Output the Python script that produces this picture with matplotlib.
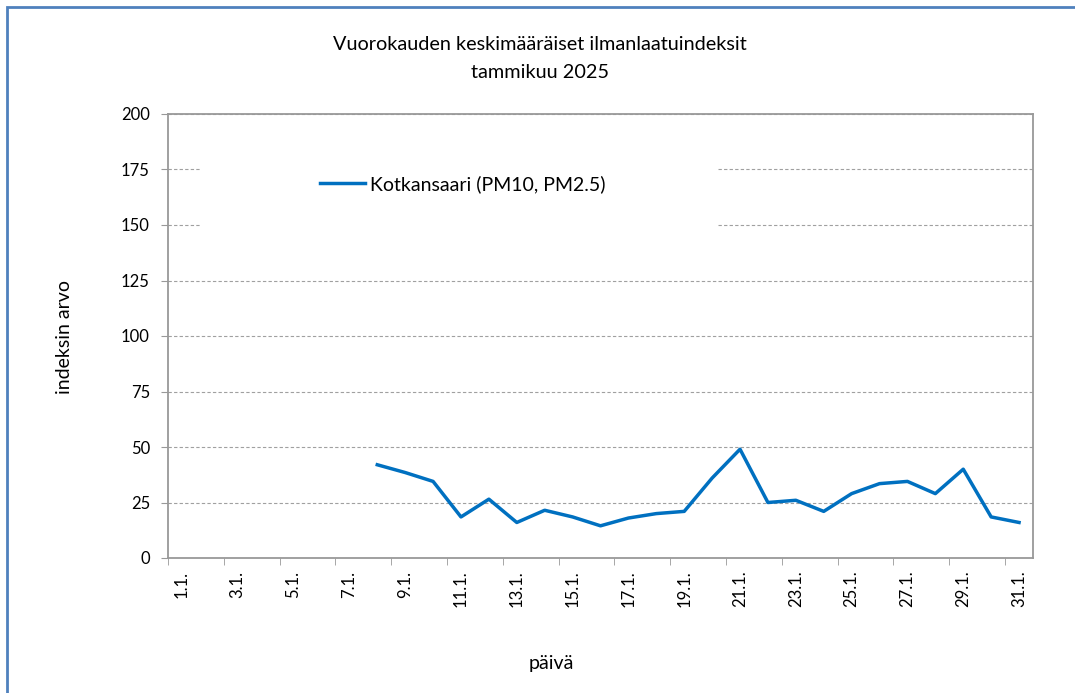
import numpy as np
import matplotlib.pyplot as plt
from matplotlib.patches import Rectangle

# päivittäiset indeksiarvot, tammikuu 2025 (1.-7.1. ei dataa)
days = list(range(1, 32))
kotkansaari = [np.nan] * 7 + [
    42, 38.5, 34.5, 18.5, 26.5, 16, 21.5, 18.5, 14.5, 18, 20,
    21, 36, 49, 25, 26, 21, 29, 33.5, 34.5, 29, 40, 18.5, 16,
]
tick_days = list(range(1, 32, 2))
tick_labels = [f'{d}.1.' for d in tick_days]
y_ticks = list(range(0, 201, 25))

plt.rcParams['font.family'] = ['Lato', 'DejaVu Sans']

fig = plt.figure(figsize=(10.75, 6.93), dpi=100)
ax = fig.add_axes([168 / 1075, 135 / 693, 865 / 1075, 444 / 693])

ax.plot(days, kotkansaari, color='#0070C0', lw=2.5, label='Kotkansaari (PM10, PM2.5)',
        zorder=3)

ax.set_xlim(0.5, 31.5)
ax.set_ylim(0, 200)
ax.set_yticks(y_ticks)
ax.set_yticklabels([str(v) for v in y_ticks], fontsize=12)
ax.set_xticks(tick_days)
ax.set_xticklabels(tick_labels, rotation=90, fontsize=12, va='top')
ax.set_xticks(np.arange(0.5, 32, 2), minor=True)
ax.tick_params(axis='x', which='major', length=0, pad=9)
ax.tick_params(axis='x', which='minor', length=5, color='#999999', direction='out')
ax.tick_params(axis='y', length=5, color='#999999', pad=8)

ax.grid(axis='y', color='#a0a0a0', ls=(0, (3, 2)), lw=0.8, zorder=1)
for s in ax.spines.values():
    s.set_color('#999999')
    s.set_linewidth(1.3)

# valkoinen legendan tausta peittää apuviivat
ax.add_patch(Rectangle((0.037, 0.69), 0.598, 0.23, transform=ax.transAxes,
                       facecolor='white', edgecolor='none', zorder=2))
ax.legend(loc='center left', bbox_to_anchor=(0.1757, 0.842), frameon=False,
          fontsize=14, handlelength=2.3, handletextpad=0.25, borderpad=0, borderaxespad=0)

fig.text(540 / 1075, 1 - 45 / 693, 'Vuorokauden keskimääräiset ilmanlaatuindeksit',
         ha='center', va='center', fontsize=14.3)
fig.text(540 / 1075, 1 - 72 / 693, 'tammikuu 2025', ha='center', va='center', fontsize=14.3)
fig.text(65 / 1075, 1 - 337 / 693, 'indeksin arvo', rotation=90, ha='center', va='center',
         fontsize=14)
fig.text(551 / 1075, 1 - 663 / 693, 'päivä', ha='center', va='center', fontsize=14)

# kaavion reunus (vasen ja ylä)
fig.patches.append(Rectangle((7 / 1075, -0.1), 1.2, 1 - 7 / 693 + 0.1, transform=fig.transFigure,
                             facecolor='none', edgecolor='#4f81bd', lw=2, figure=fig))

fig.savefig('out.png', dpi=100)
